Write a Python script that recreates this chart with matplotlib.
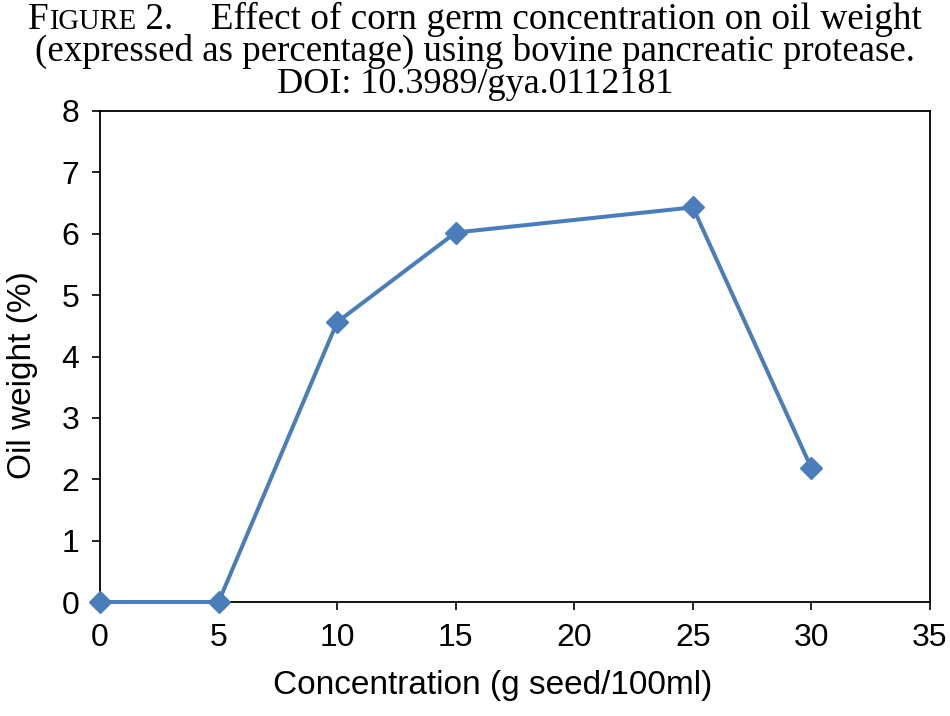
import numpy as np
import matplotlib
matplotlib.use("Agg")
import matplotlib.pyplot as plt

# Data
concentration = [0, 5, 10, 15, 25, 30]
oil_weight = [0.0, 0.0, 4.56, 6.02, 6.43, 2.18]
x_ticks = [0, 5, 10, 15, 20, 25, 30, 35]
y_ticks = [0, 1, 2, 3, 4, 5, 6, 7, 8]

plt.rcParams["font.family"] = ["Liberation Sans", "DejaVu Sans"]

fig = plt.figure(figsize=(9.5, 7.16), dpi=100)
ax = fig.add_axes([100 / 950, 1 - 602 / 716, 830 / 950, 491 / 716])

ax.plot(concentration, oil_weight, color="#4a7ebb", linewidth=2.9,
        marker="D", markersize=11.5, clip_on=False, zorder=3)

ax.set_xlim(0, 35)
ax.set_ylim(0, 8)
ax.set_xticks(x_ticks)
ax.set_yticks(y_ticks)
ax.tick_params(labelsize=23, length=6, width=1.2, direction="out",
               top=False, right=False)
ax.tick_params(axis="x", pad=9)
ax.tick_params(axis="y", pad=9)
for s in ax.spines.values():
    s.set_linewidth(1.3)

ax.set_xlabel("Concentration (g seed/100ml)", fontsize=24)
ax.set_ylabel("Oil weight (%)", fontsize=24, labelpad=17)
ax.xaxis.set_label_coords(0.4735, -0.1385)
ax.xaxis.label.set_va("top")
ax.yaxis.label.set_position((0, 0.462))

# Caption in serif with small caps "FIGURE", each line fitted to its span (px)
serif = ["Liberation Serif", "DejaVu Serif"]
renderer = fig.canvas.get_renderer()


def place_line(parts, left, right, baseline):
    texts = [fig.text(0, 0, s, fontsize=fs, family=serif, va="baseline", ha="left")
             for s, fs in parts]
    w = sum(t.get_window_extent(renderer).width for t in texts)
    k = (right - left) / w
    for t, (s, fs) in zip(texts, parts):
        t.set_fontsize(fs * k)
    x = left
    for t in texts:
        t.set_position((x / 950, (716 - baseline) / 716))
        x += t.get_window_extent(renderer).width


place_line([("F", 26), ("IGURE", 20),
            (" 2.    Effect of corn germ concentration on oil weight", 26)], 28, 922, 29)
place_line([("(expressed as percentage) using bovine pancreatic protease.", 26)], 35, 913, 61)
place_line([("DOI: 10.3989/gya.0112181", 26)], 277, 673, 93)

fig.savefig("out.png", dpi=100)
